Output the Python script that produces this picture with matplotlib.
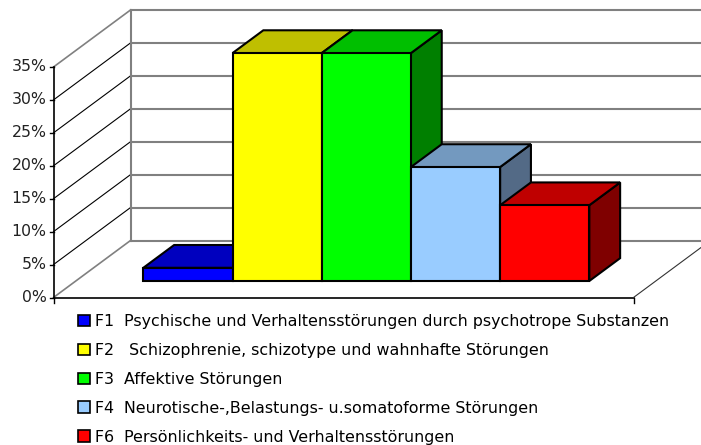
import matplotlib
matplotlib.use('Agg')
import matplotlib.pyplot as plt
from matplotlib.patches import Patch, Polygon

# datos
categorias = ['F1  Psychische und Verhaltensstörungen durch psychotrope Substanzen',
              'F2   Schizophrenie, schizotype und wahnhafte Störungen',
              'F3  Affektive Störungen',
              'F4  Neurotische-,Belastungs- u.somatoforme Störungen',
              'F6  Persönlichkeits- und Verhaltensstörungen']
valores = [2.0, 34.6, 34.6, 17.3, 11.5]
ticks = [0, 5, 10, 15, 20, 25, 30, 35]

col_frente = ['#0000FF', '#FFFF00', '#00FF00', '#99CCFF', '#FF0000']
col_arriba = ['#0000BF', '#BFBF00', '#00BF00', '#7399BF', '#BF0000']
col_lado = ['#00007F', '#7F7F00', '#007F00', '#536A86', '#7F0000']

# escala: 1 categoria = 89.2 px, 1 % = 6.586 px
ux, uy = 89.2, 6.586
W, H = 701, 445
prof_x, prof_y = 77 / ux, 57 / uy   # proyeccion oblicua de la profundidad
ancho_piso = 580 / ux
x_ini = 67.5 / ux
d0, d1 = 0.29, 0.69   # profundidad de las barras

def p(x, y, d=0.0):
    return (x + d * prof_x, y + d * prof_y)

plt.rcParams['font.family'] = ['DejaVu Sans']
fig = plt.figure(figsize=(W / 100, H / 100), dpi=100)
ax = fig.add_axes([0, 0, 1, 1])
ax.set_xlim(-53.5 / ux, (W - 53.5) / ux)
ax.set_ylim(-(H - 297.5) / uy, 297.5 / uy)
ax.axis('off')

gris = '#808080'

# pared del fondo y lineas de la cuadricula
for t in ticks:
    ax.plot(*zip(p(0, t, 1), p(ancho_piso, t, 1)), color=gris, lw=1.5)
    c = gris if t in (0, 35) else 'black'
    ax.plot(*zip(p(0, t, 0), p(0, t, 1)), color=c, lw=1.2 if t in (0, 35) else 0.8)
    ax.plot(*zip(p(-3.5 / ux, t), p(0, t)), color='black', lw=1)
    ax.text(p(-7 / ux, t)[0], t, f'{t}%', ha='right', va='center', fontsize=11.3, color='#222222')
ax.plot(*zip(p(0, 0, 1), p(0, 35, 1)), color=gris, lw=1.5)

# ejes delanteros
ax.plot(*zip(p(0, 0), p(0, 35)), color='black', lw=1.2)
ax.plot(*zip(p(0, 0), p(ancho_piso, 0)), color='black', lw=1.2)
ax.plot(*zip(p(0, -5.5 / uy), p(0, 0)), color='black', lw=1)
ax.plot(*zip(p(ancho_piso, -5.5 / uy), p(ancho_piso, 0)), color='black', lw=1)
ax.plot(*zip(p(ancho_piso, 0), p(ancho_piso, 0, 1)), color='#333333', lw=0.8)

# barras
for i, v in enumerate(valores):
    a, b = x_ini + i, x_ini + i + 1
    estilo = dict(edgecolor='black', lw=1.5, joinstyle='miter', zorder=5)
    ax.add_patch(Polygon([p(b, 0, d0), p(b, 0, d1), p(b, v, d1), p(b, v, d0)], facecolor=col_lado[i], **estilo))
    ax.add_patch(Polygon([p(a, v, d0), p(b, v, d0), p(b, v, d1), p(a, v, d1)], facecolor=col_arriba[i], **estilo))
    ax.add_patch(Polygon([p(a, 0, d0), p(b, 0, d0), p(b, v, d0), p(a, v, d0)], facecolor=col_frente[i], **estilo))

# leyenda
handles = [Patch(facecolor=c, edgecolor='black', lw=1.2) for c in col_frente]
ax.legend(handles, categorias, loc='upper left', bbox_to_anchor=(78 / W, 1 - 314 / H),
          frameon=False, fontsize=11.4, handlelength=0.75, handleheight=0.75,
          handletextpad=0.31, labelspacing=0.88, borderpad=0, borderaxespad=0)

fig.savefig('out.png', dpi=100)
